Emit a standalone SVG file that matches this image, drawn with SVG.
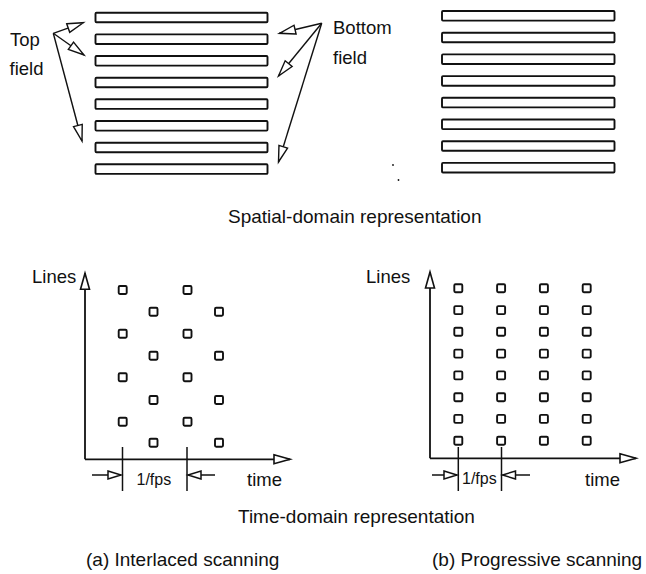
<svg xmlns="http://www.w3.org/2000/svg" width="646" height="574" viewBox="0 0 646 574">
  <style>
    .bar { fill: #fff; stroke: #111; stroke-width: 1.9; }
    .pix { fill: #fff; stroke: #111; stroke-width: 1.9; }
    .ln { fill: none; stroke: #111; stroke-width: 1.4; }
    .ax { fill: none; stroke: #111; stroke-width: 1.8; }
    .tk { fill: none; stroke: #111; stroke-width: 1.5; }
    text { font-family: "Liberation Sans", Arial, sans-serif; fill: #111; }
    .lbl { font-size: 18.5px; }
    .cap { font-size: 19px; }
    .sm { font-size: 16px; }
  </style>
  <defs>
    <marker id="head" markerUnits="userSpaceOnUse" markerWidth="20" markerHeight="12" refX="16" refY="4.5" orient="auto" overflow="visible">
      <path d="M0,0 L16,4.5 L0,9 Z" fill="#fff" stroke="#111" stroke-width="1.4"/>
    </marker>
    <marker id="axhead" markerUnits="userSpaceOnUse" markerWidth="20" markerHeight="12" refX="16" refY="4.5" orient="auto" overflow="visible">
      <path d="M0,0 L16,4.5 L0,9 Z" fill="#fff" stroke="#111" stroke-width="1.6"/>
    </marker>
    <marker id="dimhead" markerUnits="userSpaceOnUse" markerWidth="16" markerHeight="10" refX="13" refY="4" orient="auto" overflow="visible">
      <path d="M0,0 L13,4 L0,8 Z" fill="#fff" stroke="#111" stroke-width="1.5"/>
    </marker>
  </defs>
  <rect width="646" height="574" fill="#fff"/>

  <!-- interlaced frame: scan lines -->
  <g id="interlaced-lines">
    <rect class="bar" x="95.5" y="12.7" width="172" height="9.6" rx="1"/>
    <rect class="bar" x="95.5" y="34.4" width="172" height="9.6" rx="1"/>
    <rect class="bar" x="95.5" y="56.0" width="172" height="9.6" rx="1"/>
    <rect class="bar" x="95.5" y="77.7" width="172" height="9.6" rx="1"/>
    <rect class="bar" x="95.5" y="99.3" width="172" height="9.6" rx="1"/>
    <rect class="bar" x="95.5" y="121.0" width="172" height="9.6" rx="1"/>
    <rect class="bar" x="95.5" y="142.7" width="172" height="9.6" rx="1"/>
    <rect class="bar" x="95.5" y="164.3" width="172" height="9.6" rx="1"/>
  </g>

  <!-- progressive frame: scan lines -->
  <g id="progressive-lines">
    <rect class="bar" x="442" y="11.0" width="172.5" height="9.6" rx="1"/>
    <rect class="bar" x="442" y="32.7" width="172.5" height="9.6" rx="1"/>
    <rect class="bar" x="442" y="54.4" width="172.5" height="9.6" rx="1"/>
    <rect class="bar" x="442" y="76.1" width="172.5" height="9.6" rx="1"/>
    <rect class="bar" x="442" y="97.8" width="172.5" height="9.6" rx="1"/>
    <rect class="bar" x="442" y="119.5" width="172.5" height="9.6" rx="1"/>
    <rect class="bar" x="442" y="141.2" width="172.5" height="9.6" rx="1"/>
    <rect class="bar" x="442" y="162.9" width="172.5" height="9.6" rx="1"/>
  </g>

  <g id="top-field-label">
    <text class="lbl" x="10" y="46">Top</text>
    <text class="lbl" x="9.5" y="75">field</text>
  </g>
  <g id="bottom-field-label">
    <text class="lbl" x="333" y="34">Bottom</text>
    <text class="lbl" x="333" y="63.5">field</text>
  </g>

  <!-- stray marks -->
  <circle cx="393" cy="165" r="0.9" fill="#111"/>
  <circle cx="398.5" cy="180" r="0.9" fill="#111"/>

  <text id="spatial-caption" class="cap" x="228" y="223">Spatial-domain representation</text>

  <!-- interlaced timing plot -->
  <g id="interlaced-plot">
    <text class="lbl" x="32" y="283">Lines</text>
    <g class="samples">
      <rect class="pix" x="118.7" y="286" width="8" height="8" rx="1.2"/>
      <rect class="pix" x="118.7" y="329.7" width="8" height="8" rx="1.2"/>
      <rect class="pix" x="118.7" y="373.3" width="8" height="8" rx="1.2"/>
      <rect class="pix" x="118.7" y="417.7" width="8" height="8" rx="1.2"/>
      <rect class="pix" x="149.5" y="307.7" width="8" height="8" rx="1.2"/>
      <rect class="pix" x="149.5" y="351.7" width="8" height="8" rx="1.2"/>
      <rect class="pix" x="149.5" y="396" width="8" height="8" rx="1.2"/>
      <rect class="pix" x="149.5" y="438.7" width="8" height="8" rx="1.2"/>
      <rect class="pix" x="183.5" y="286" width="8" height="8" rx="1.2"/>
      <rect class="pix" x="183.5" y="329.7" width="8" height="8" rx="1.2"/>
      <rect class="pix" x="183.5" y="373.3" width="8" height="8" rx="1.2"/>
      <rect class="pix" x="183.5" y="417.7" width="8" height="8" rx="1.2"/>
      <rect class="pix" x="215" y="307.7" width="8" height="8" rx="1.2"/>
      <rect class="pix" x="215" y="351.7" width="8" height="8" rx="1.2"/>
      <rect class="pix" x="215" y="396" width="8" height="8" rx="1.2"/>
      <rect class="pix" x="215" y="438.7" width="8" height="8" rx="1.2"/>
    </g>
    <line class="tk" x1="122.5" y1="447" x2="122.5" y2="491"/>
    <line class="tk" x1="187" y1="447" x2="187" y2="491"/>
    <text class="sm" x="136.5" y="485">1/fps</text>
    <text class="lbl" x="247" y="486">time</text>
  </g>

  <!-- progressive timing plot -->
  <g id="progressive-plot">
    <text class="lbl" x="366" y="283">Lines</text>
    <g class="samples">
      <rect class="pix" x="454.3" y="284.3" width="8" height="8" rx="1.2"/>
      <rect class="pix" x="454.3" y="306.1" width="8" height="8" rx="1.2"/>
      <rect class="pix" x="454.3" y="327.8" width="8" height="8" rx="1.2"/>
      <rect class="pix" x="454.3" y="349.6" width="8" height="8" rx="1.2"/>
      <rect class="pix" x="454.3" y="371.4" width="8" height="8" rx="1.2"/>
      <rect class="pix" x="454.3" y="393.2" width="8" height="8" rx="1.2"/>
      <rect class="pix" x="454.3" y="414.9" width="8" height="8" rx="1.2"/>
      <rect class="pix" x="454.3" y="436.7" width="8" height="8" rx="1.2"/>
      <rect class="pix" x="497.1" y="284.3" width="8" height="8" rx="1.2"/>
      <rect class="pix" x="497.1" y="306.1" width="8" height="8" rx="1.2"/>
      <rect class="pix" x="497.1" y="327.8" width="8" height="8" rx="1.2"/>
      <rect class="pix" x="497.1" y="349.6" width="8" height="8" rx="1.2"/>
      <rect class="pix" x="497.1" y="371.4" width="8" height="8" rx="1.2"/>
      <rect class="pix" x="497.1" y="393.2" width="8" height="8" rx="1.2"/>
      <rect class="pix" x="497.1" y="414.9" width="8" height="8" rx="1.2"/>
      <rect class="pix" x="497.1" y="436.7" width="8" height="8" rx="1.2"/>
      <rect class="pix" x="539.9" y="284.3" width="8" height="8" rx="1.2"/>
      <rect class="pix" x="539.9" y="306.1" width="8" height="8" rx="1.2"/>
      <rect class="pix" x="539.9" y="327.8" width="8" height="8" rx="1.2"/>
      <rect class="pix" x="539.9" y="349.6" width="8" height="8" rx="1.2"/>
      <rect class="pix" x="539.9" y="371.4" width="8" height="8" rx="1.2"/>
      <rect class="pix" x="539.9" y="393.2" width="8" height="8" rx="1.2"/>
      <rect class="pix" x="539.9" y="414.9" width="8" height="8" rx="1.2"/>
      <rect class="pix" x="539.9" y="436.7" width="8" height="8" rx="1.2"/>
      <rect class="pix" x="582.7" y="284.3" width="8" height="8" rx="1.2"/>
      <rect class="pix" x="582.7" y="306.1" width="8" height="8" rx="1.2"/>
      <rect class="pix" x="582.7" y="327.8" width="8" height="8" rx="1.2"/>
      <rect class="pix" x="582.7" y="349.6" width="8" height="8" rx="1.2"/>
      <rect class="pix" x="582.7" y="371.4" width="8" height="8" rx="1.2"/>
      <rect class="pix" x="582.7" y="393.2" width="8" height="8" rx="1.2"/>
      <rect class="pix" x="582.7" y="414.9" width="8" height="8" rx="1.2"/>
      <rect class="pix" x="582.7" y="436.7" width="8" height="8" rx="1.2"/>
    </g>
    <line class="tk" x1="458.3" y1="447" x2="458.3" y2="491"/>
    <line class="tk" x1="501.5" y1="447" x2="501.5" y2="491"/>
    <text class="sm" x="462" y="484">1/fps</text>
    <text class="lbl" x="585" y="486">time</text>
  </g>

  <text id="time-caption" class="cap" x="238" y="523">Time-domain representation</text>
  <text id="caption-a" class="cap" x="86" y="566">(a) Interlaced scanning</text>
  <text id="caption-b" class="cap" x="432" y="566">(b) Progressive scanning</text>

  <!-- connectors: field pointers, axes, period markers -->
  <g id="connectors">
    <line class="ln" x1="53.3" y1="33.3" x2="83.3" y2="22.7" marker-end="url(#head)"/>
    <line class="ln" x1="53.3" y1="33.3" x2="84" y2="55" marker-end="url(#head)"/>
    <line class="ln" x1="53.3" y1="33.3" x2="82" y2="141" marker-end="url(#head)"/>
    <line class="ln" x1="321.7" y1="23.3" x2="279.5" y2="33.3" marker-end="url(#head)"/>
    <line class="ln" x1="321.7" y1="23.3" x2="278.5" y2="76" marker-end="url(#head)"/>
    <line class="ln" x1="321.7" y1="23.3" x2="278.5" y2="162" marker-end="url(#head)"/>

    <line class="ax" x1="85" y1="459.3" x2="85" y2="273.3" marker-end="url(#axhead)"/>
    <line class="ax" x1="85" y1="459.3" x2="290" y2="459.3" marker-end="url(#axhead)"/>
    <line class="ax" x1="430" y1="458.3" x2="430" y2="272" marker-end="url(#axhead)"/>
    <line class="ax" x1="430" y1="458.3" x2="636" y2="458.3" marker-end="url(#axhead)"/>

    <line class="tk" x1="92" y1="475" x2="121" y2="475" marker-end="url(#dimhead)"/>
    <line class="tk" x1="215" y1="475" x2="188" y2="475" marker-end="url(#dimhead)"/>
    <line class="tk" x1="432" y1="475" x2="457" y2="475" marker-end="url(#dimhead)"/>
    <line class="tk" x1="530" y1="475" x2="502.5" y2="475" marker-end="url(#dimhead)"/>
  </g>
</svg>
